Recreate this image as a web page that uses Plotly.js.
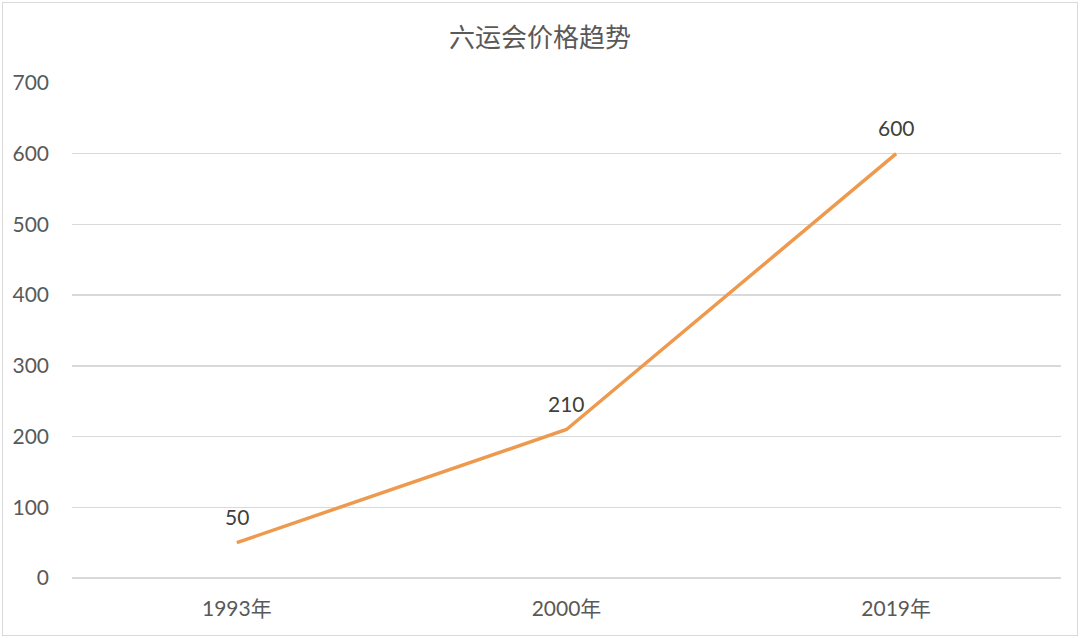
<!DOCTYPE html>
<html>
<head>
<meta charset="utf-8">
<script src="https://cdn.plot.ly/plotly-3.0.1.min.js"></script>
<style>
html,body{margin:0;padding:0;background:#fff;}
#wrap{position:relative;width:1080px;height:638px;}
#chart{width:1080px;height:638px;}
#frame{position:absolute;left:2px;top:2px;width:1074px;height:632px;border:1px solid #d9d9d9;pointer-events:none;}
</style>
</head>
<body>
<div id="wrap"><div id="chart"></div><div id="frame"></div></div>
<script>
const categories = ['1993年', '2000年', '2019年'];
const prices = [50, 210, 600];
const titleText = '六运会价格趋势';

const fontFam = "Lato, 'Noto Sans CJK SC', sans-serif";

const labelAnnotations = categories.map((c, i) => ({
  x: c, y: prices[i], xref: 'x', yref: 'y',
  text: String(prices[i]), showarrow: false,
  yshift: 26, xanchor: 'center', yanchor: 'middle',
  font: {family: fontFam, size: 21, color: '#404040'}
}));

Plotly.newPlot('chart', [{
  type: 'scatter',
  mode: 'lines',
  x: categories,
  y: prices,
  line: {color: '#EE9A4E', width: 3.5},
  hoverinfo: 'skip'
}], {
  width: 1080,
  height: 638,
  margin: {l: 72, r: 19, t: 83, b: 60},
  paper_bgcolor: '#fff',
  plot_bgcolor: '#fff',
  showlegend: false,
  annotations: labelAnnotations,
  title: {text: titleText, x: 0.5, xanchor: 'center', y: 0.94, yanchor: 'middle',
          font: {family: "'Noto Sans CJK SC', sans-serif", size: 26, color: '#595959'}},
  xaxis: {
    type: 'category',
    range: [-0.5, 2.5],
    showgrid: false,
    zeroline: false,
    showline: false,
    ticks: '',
    tickfont: {family: fontFam, size: 21, color: '#595959'},
    ticklabelstandoff: 16
  },
  yaxis: {
    range: [0, 700],
    dtick: 100,
    showgrid: true,
    gridcolor: '#d9d9d9',
    gridwidth: 1.3,
    zeroline: true,
    zerolinecolor: '#d9d9d9',
    zerolinewidth: 1.3,
    showline: false,
    ticks: '',
    tickfont: {family: fontFam, size: 21, color: '#595959'},
    ticklabelstandoff: 22
  }
}, {displayModeBar: false, staticPlot: true});
</script>
</body>
</html>
